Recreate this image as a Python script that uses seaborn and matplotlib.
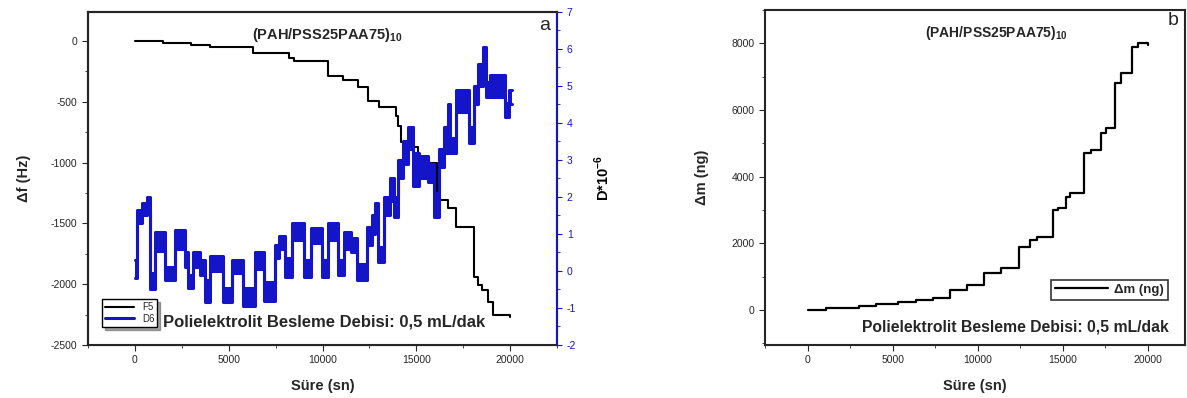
import numpy as np
import pandas as pd
import seaborn as sns
import matplotlib.pyplot as plt
from matplotlib.ticker import MultipleLocator

# === 1. Veriler ===
# (a) frekans değişimi F5 - basamaklı
f_t = [0, 1500, 3000, 4000, 5000, 6300, 8200, 8500, 10300, 11100, 11900, 12400,
       13000, 13900, 14000, 14200, 14450, 15100, 16100, 16700, 17100, 18100,
       18300, 18500, 18800, 19100, 20000]
f_hz = [0, -15, -30, -45, -50, -95, -140, -165, -290, -320, -380, -490,
        -540, -620, -700, -830, -870, -1005, -1310, -1370, -1530, -1940,
        -2005, -2050, -2150, -2250, -2270]

# (a) dissipasyon D6 - gürültülü bant (alt / üst sınır)
d_t = [0, 130, 400, 650, 800, 1060, 1600, 2130, 2660, 2850, 3080, 3450, 3720,
       4000, 4680, 5160, 5740, 6380, 6900, 7450, 7700, 7980, 8350, 9040, 9410,
       9950, 10270, 10800, 11170, 11500, 11860, 12390, 12650, 12800, 12950,
       13300, 13600, 13800, 14000, 14300, 14550, 14800, 15150, 15600, 15950,
       16200, 16450, 16700, 16800, 17100, 17800, 18100, 18300, 18550, 18700,
       18900, 19700, 19950, 20100]
d_lo = [-0.2, 1.3, 1.5, 1.6, -0.5, 0.55, -0.25, 0.6, 0.1, -0.45, 0.1, -0.1, -0.85,
        0.0, -0.85, -0.05, -0.95, 0.05, -0.8, 0.35, 0.6, -0.15, 0.85, -0.15, 0.75,
        -0.15, 0.85, -0.1, 0.6, 0.5, -0.25, 0.7, 1.0, 1.4, 0.25,
        1.5, 1.9, 1.45, 2.5, 2.9, 3.3, 2.3, 2.5, 2.4, 1.45,
        2.8, 3.2, 3.6, 3.2, 4.3, 3.45, 4.5, 5.0, 5.5, 4.7,
        4.7, 4.15, 4.5, 4.5]
d_hi = [0.3, 1.65, 1.85, 2.0, -0.05, 1.05, 0.1, 1.1, 0.5, -0.1, 0.5, 0.3, -0.25,
        0.4, -0.45, 0.3, -0.45, 0.5, -0.3, 0.7, 0.95, 0.35, 1.3, 0.3, 1.15,
        0.3, 1.3, 0.3, 1.05, 0.9, 0.2, 1.2, 1.5, 1.85, 0.65,
        2.0, 2.5, 2.0, 3.0, 3.5, 3.9, 3.2, 3.1, 2.9, 2.1,
        3.3, 3.9, 4.5, 3.6, 4.9, 3.9, 5.0, 5.6, 6.05, 5.1,
        5.3, 4.55, 4.9, 4.9]

# (b) kütle değişimi
m_t = [0, 1060, 3000, 4000, 5300, 6350, 7400, 8400, 9400, 10350, 11350, 12400,
       13100, 13500, 14400, 14750, 15200, 15450, 16250, 16650, 17250, 17550,
       18100, 18400, 19100, 19400, 20000]
m_ng = [0, 50, 120, 180, 250, 300, 350, 600, 750, 1100, 1260, 1900,
        2100, 2200, 3000, 3050, 3400, 3520, 4700, 4800, 5300, 5450,
        6800, 7100, 7900, 8000, 7950]

baslik = '(PAH/PSS25PAA75)$_{\\mathbf{10}}$'
not_metni = 'Polielektrolit Besleme Debisi: 0,5 mL/dak'
mavi = '#1414c8'

df_f = pd.DataFrame({'t': f_t, 'f': f_hz})
df_d = pd.DataFrame({'t': d_t, 'lo': d_lo, 'hi': d_hi})
df_m = pd.DataFrame({'t': m_t, 'm': m_ng})

# === 2. Stil ===
sns.set_style('ticks')
plt.rcParams['font.family'] = ['Liberation Sans', 'DejaVu Sans']
plt.rcParams['mathtext.fontset'] = 'custom'
plt.rcParams['mathtext.bf'] = 'Liberation Sans:bold'
plt.rcParams['mathtext.rm'] = 'Liberation Sans'
plt.rcParams['axes.unicode_minus'] = False

fig = plt.figure(figsize=(11.87, 3.98), dpi=100)
ax1 = fig.add_axes([0.0741, 0.1332, 0.3952, 0.8368])
ax2 = fig.add_axes([0.6445, 0.1332, 0.3540, 0.8418])

# === 3. Grafik (a) ===
sns.lineplot(data=df_f, x='t', y='f', ax=ax1, color='black', lw=1.5,
             drawstyle='steps-post', label='F5', legend=False)
ax1.set_xlim(-2500, 22500)
ax1.set_ylim(-2500, 240)
ax1.xaxis.set_major_locator(MultipleLocator(5000))
ax1.xaxis.set_minor_locator(MultipleLocator(2500))
ax1.yaxis.set_major_locator(MultipleLocator(500))
ax1.yaxis.set_minor_locator(MultipleLocator(250))
ax1.set_xlabel('Süre (sn)', fontsize=10.5, fontweight='bold', labelpad=10)
ax1.set_ylabel('Δf (Hz)', fontsize=10.5, fontweight='bold', labelpad=14)

ax1b = ax1.twinx()
sns.lineplot(data=df_d, x='t', y='lo', ax=ax1b, color=mavi, lw=2.2,
             drawstyle='steps-post', label='D6', legend=False)
sns.lineplot(data=df_d, x='t', y='hi', ax=ax1b, color=mavi, lw=2.2,
             drawstyle='steps-post', legend=False)
ax1b.fill_between(df_d['t'], df_d['lo'], df_d['hi'], step='post', color=mavi, lw=0)
ax1b.set_ylim(-2, 7)
ax1b.yaxis.set_major_locator(MultipleLocator(1))
ax1b.yaxis.set_minor_locator(MultipleLocator(0.5))
ax1b.set_ylabel('D*10$^{\\mathbf{-6}}$', fontsize=10.5, fontweight='bold', labelpad=12)
ax1b.spines['right'].set_color(mavi)
ax1b.spines['right'].set_linewidth(1.5)
ax1b.tick_params(axis='y', which='both', colors=mavi, labelsize=7.5)
ax1b.yaxis.label.set_color('black')

ax1.text(0.51, 0.93, baslik, transform=ax1.transAxes, ha='center', va='center',
         fontsize=10.5, fontweight='bold')
ax1.text(0.985, 0.985, 'a', transform=ax1.transAxes, ha='right', va='top', fontsize=14)
ax1.text(0.16, 0.069, not_metni, transform=ax1.transAxes, ha='left', va='center',
         fontsize=12, fontweight='bold')

h1, l1 = ax1.get_legend_handles_labels()
h2, l2 = ax1b.get_legend_handles_labels()
leg = ax1b.legend(h1 + h2, l1 + l2, loc='lower left', bbox_to_anchor=(0.02, 0.04),
                  fontsize=7, frameon=True, fancybox=False, shadow=True,
                  edgecolor='black', handlelength=3, borderpad=0.3, labelspacing=0.2)
leg.get_frame().set_linewidth(1.0)

# === 4. Grafik (b) ===
sns.lineplot(data=df_m, x='t', y='m', ax=ax2, color='black', lw=1.6,
             drawstyle='steps-post', label='Δm (ng)', legend=False)
ax2.set_xlim(-2500, 22200)
ax2.set_ylim(-1050, 9000)
ax2.xaxis.set_major_locator(MultipleLocator(5000))
ax2.xaxis.set_minor_locator(MultipleLocator(2500))
ax2.yaxis.set_major_locator(MultipleLocator(2000))
ax2.yaxis.set_minor_locator(MultipleLocator(1000))
ax2.set_xlabel('Süre (sn)', fontsize=10.5, fontweight='bold', labelpad=10)
ax2.set_ylabel('Δm (ng)', fontsize=10.5, fontweight='bold', labelpad=16)
ax2.text(0.55, 0.93, baslik, transform=ax2.transAxes, ha='center', va='center',
         fontsize=10, fontweight='bold')
ax2.text(0.985, 0.995, 'b', transform=ax2.transAxes, ha='right', va='top', fontsize=14)
ax2.text(0.23, 0.055, not_metni, transform=ax2.transAxes, ha='left', va='center',
         fontsize=11.3, fontweight='bold')
leg2 = ax2.legend(loc='center right', bbox_to_anchor=(0.975, 0.165),
                  frameon=True, fancybox=False, edgecolor='black', handlelength=4,
                  borderpad=0.3, handletextpad=0.5, prop={'weight': 'bold', 'size': 9.5})
leg2.get_frame().set_linewidth(1.2)

for ax in (ax1, ax2):
    for s in ax.spines.values():
        s.set_linewidth(1.5)
    ax.tick_params(axis='both', which='both', direction='out', labelsize=7.5)
    ax.tick_params(which='major', length=4)
    ax.tick_params(which='minor', length=2.5)
    ax.tick_params(axis='y', right=False)
ax1b.spines['left'].set_linewidth(1.5)
ax1b.spines['top'].set_linewidth(1.5)

plt.savefig('out.png', dpi=100)
